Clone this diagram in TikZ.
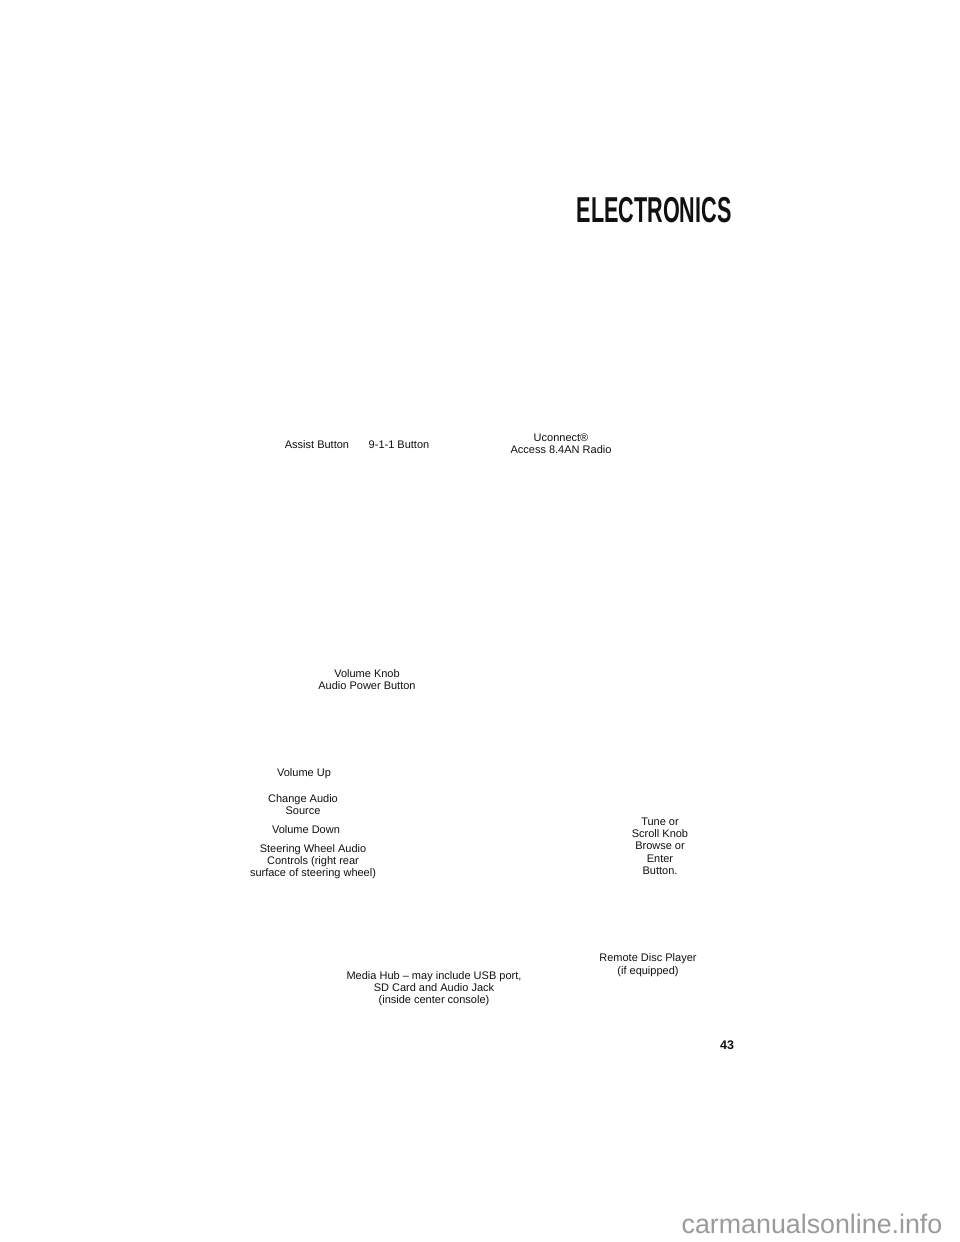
\documentclass[tikz,border=0pt]{standalone}
\usepackage{fontspec}
\setmainfont{Liberation Sans}
\definecolor{wm}{HTML}{9A9A9A}
\definecolor{ink}{HTML}{111111}
\tikzset{
  lbl/.style={align=center, inner sep=0pt, text=ink, font=\fontsize{11}{12.3}\selectfont},
  heading/.style={inner sep=0pt, text=ink, font=\fontsize{36}{40}\selectfont\bfseries},
  pagenum/.style={inner sep=0pt, text=ink, font=\fontsize{12.5}{14}\selectfont\bfseries},
  watermark/.style={inner sep=0pt, text=wm, font=\fontsize{26.8}{30}\selectfont}
}
\begin{document}
\begin{tikzpicture}[x=1pt,y=-1pt]
\useasboundingbox[fill=white] (0,0) rectangle (960,1242);
\node[heading] (title) at (654,210) {\scalebox{0.6}[1]{ELECTRONICS}};
\node[lbl] (assist) at (317,444.5) {Assist Button};
\node[lbl] (nineoneone) at (399,444.5) {9-1-1 Button};
\node[lbl] (uconnect) at (561,444) {Uconnect®\\Access 8.4AN Radio};
\node[lbl] (volknob) at (367,679.5) {Volume Knob\\Audio Power Button};
\node[lbl] (volup) at (304,773.5) {Volume Up};
\node[lbl] (source) at (303,804.5) {Change Audio\\Source};
\node[lbl] (voldown) at (306,829.5) {Volume Down};
\node[lbl] (steering) at (313,861.5) {Steering Wheel Audio\\Controls (right rear\\surface of steering wheel)};
\node[lbl] (tune) at (660,846) {Tune or\\Scroll Knob\\Browse or\\Enter\\Button.};
\node[lbl] (remote) at (648,965) {Remote Disc Player\\(if equipped)};
\node[lbl] (media) at (434,988.5) {Media Hub – may include USB port,\\SD Card and Audio Jack\\(inside center console)};
\node[pagenum] (page) at (727,1045) {43};
\node[watermark] (wmark) at (812,1224) {carmanualsonline.info};
\end{tikzpicture}
\end{document}
